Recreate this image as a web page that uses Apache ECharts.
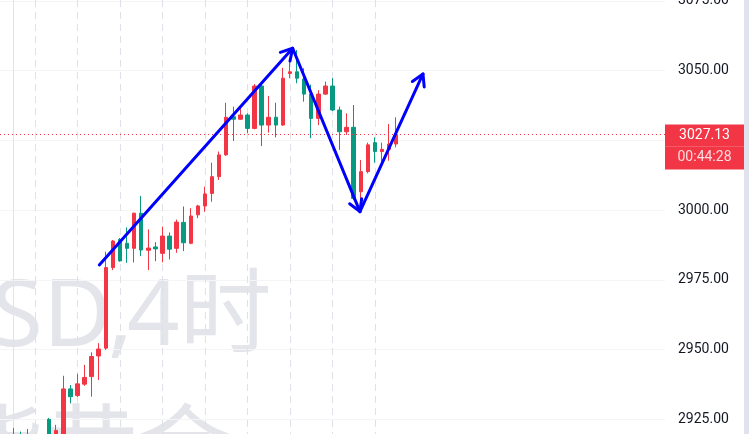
<!DOCTYPE html>
<html>
<head>
<meta charset="utf-8">
<script src="https://cdn.jsdelivr.net/npm/echarts@6/dist/echarts.min.js"></script>
<style>
html,body{margin:0;padding:0;background:#ffffff;}
#c{width:749px;height:434px;}
</style>
</head>
<body>
<div id="c"></div>
<script>
// ---- data (4h candles, index = position) ----
const opens  = [2912,2918,2916,2913,2910,2925,2915,2915,2935.9,2933.5,2937.6,2940.3,2947.7,2950.5,2979.4,2989.5,2988.1,2986.3,2998.9,2985.6,2986.8,2984.5,2990.7,2986.3,2995.6,2988.1,2998.3,3001.5,3006,3012,3019.8,3033.5,3032.6,3034.1,3029.3,3044.5,3030.5,3033.3,3030.5,3049,3049.6,3047,3041.6,3032.9,3041.6,3044.5,3035.9,3028.1,3029.7,3006.6,3013.8,3024.2,3021,3021.8,3023.7];
const closes = [2918,2914,2913,2910,2914,2915,2921,2935.9,2933.1,2937.7,2940,2947.5,2950.2,2979.4,2988.9,2981.8,2986.3,2998.9,2985.7,2986.4,2986.1,2990.7,2986,2995.7,2988.3,2997.9,3001.5,3005.8,3012,3019.8,3033.3,3032.6,3034.1,3029.3,3044.5,3030.5,3033.3,3030.5,3047.3,3049.6,3047.3,3041.6,3032.9,3041.6,3044.5,3035.9,3028.1,3029.7,3004.2,3013.8,3023.4,3021,3021.8,3023.7,3027.13];
const lows   = [2908,2910,2909,2906,2907,2912,2912,2913,2930.7,2933,2937,2933.1,2939.1,2949.9,2978.5,2981.5,2981.1,2981.2,2983.5,2978.5,2981.7,2981.3,2982.3,2984.7,2985.3,2987.8,2997.1,2999.4,3003,3010.8,3019.5,3024.8,3032.4,3027.6,3029,3023,3027.8,3026.1,3030.2,3047.3,3045.5,3038.9,3025.8,3030.5,3041.3,3035.5,3021.6,3027,3003.6,3003,3013.2,3017,3017.4,3017.7,3022.5];
const highs  = [2921.9,2920.6,2921.5,2917,2918,2925.5,2923,2940.6,2937.3,2941.3,2944.5,2949,2952.3,2985.1,2989.3,2990,2993.8,2999.1,3005.1,2993.1,2988.5,2994.1,2992,2996.6,3001.3,3000.7,3001.9,3008.4,3017,3021,3038.5,3037.1,3037.3,3034.7,3045.2,3045,3040.9,3038.5,3051,3054.4,3057.4,3050.9,3045,3043,3046.1,3047.3,3037.1,3034.7,3037.7,3018,3024.2,3026.1,3024.2,3030.9,3033.3];
const dayLines = [3,9,15,21,27,33,39,45,51];
const lastPrice = 3027.13;
const countdown = '00:44:28';
const arrowFrom = [[12.08,2980.33],[39.38,3058.03],[48.88,2999.44]];
const arrowTo   = [[39.38,3058.03],[48.88,2999.44],[57.78,3048.82]];
const watermarkSymbol = 'XAUUSD,';
const watermarkPeriod = '4时';
const watermarkLine2 = '现货黄金';

const candleData = opens.map((o,i)=>[i,o,closes[i],lows[i],highs[i]]);
const arrowData = arrowFrom.map((a,i)=>[a[0],a[1],arrowTo[i][0],arrowTo[i][1]]);

const UP='#f23645', DOWN='#089981', BLUE='#0000ff';
const WM='#e4e5ea';
const chart = echarts.init(document.getElementById('c'), null, {renderer:'canvas'});

function baseGraphics(){
  return [
    {type:'text',z:0,silent:true,x:133,y:319,style:{text:watermarkSymbol,align:'right',verticalAlign:'middle',
      font:'94px "Noto Sans", sans-serif',fill:WM}},
    {type:'text',z:0,silent:true,x:127,y:319,style:{text:watermarkPeriod,align:'left',verticalAlign:'middle',
      font:'92px "Noto Sans", "Noto Sans CJK SC", sans-serif',fill:WM}},
    {type:'text',z:0,silent:true,x:232,y:447,style:{text:watermarkLine2,align:'right',verticalAlign:'middle',
      font:'94px "Noto Sans CJK SC", sans-serif',fill:WM}},
    {type:'rect',z:10,silent:true,shape:{x:744,y:0,width:5,height:434},style:{fill:'#e0e3eb'}}
  ];
}

chart.setOption({
  animation:false,
  backgroundColor:'#ffffff',
  grid:{left:0,right:84,top:-68.75,bottom:-55,containLabel:false,outerBoundsMode:'none'},
  xAxis:{type:'value',min:-1.94,max:91.95,show:false},
  yAxis:{type:'value',position:'right',min:2900,max:3100,interval:25,
    axisLine:{show:true,lineStyle:{color:'#e0e3eb',width:1}},
    axisTick:{show:false},
    axisLabel:{color:'#131722',fontSize:14,fontFamily:'Roboto, "Liberation Sans", sans-serif',margin:13,
      formatter:v=>v.toFixed(2)},
    splitLine:{show:true,lineStyle:{color:'#f5f5f7',width:1}}
  },
  graphic:baseGraphics(),
  series:[
    {type:'custom',name:'grid',z:1,silent:true,data:dayLines.map(d=>[d,3000]),encode:{x:0,y:1},
      renderItem:(params,api)=>{
        const x=Math.round(api.coord([api.value(0),3000])[0])+0.5;
        return {type:'line',shape:{x1:x,y1:0,x2:x,y2:434},style:{stroke:'#dfe1e8',lineWidth:1,lineDash:[7,5]}};
      }},
    {type:'candlestick',name:'XAUUSD',z:3,barWidth:4,
      data:candleData,encode:{x:0,y:[1,2,3,4]},
      itemStyle:{color:UP,color0:DOWN,borderColor:UP,borderColor0:DOWN,borderWidth:1},
      markLine:{silent:true,symbol:['none','none'],label:{show:false},
        lineStyle:{color:UP,type:[1,3],width:1},
        data:[{yAxis:lastPrice}]}
    },
    {type:'custom',name:'arrows',z:5,silent:true,data:arrowData,encode:{x:[0,2],y:[1,3]},
      renderItem:(params,api)=>{
        const p1=api.coord([api.value(0),api.value(1)]);
        const p2=api.coord([api.value(2),api.value(3)]);
        const ang=Math.atan2(p2[1]-p1[1],p2[0]-p1[0]);
        const L=13,a=Math.PI/6;
        const h1=[p2[0]-L*Math.cos(ang-a),p2[1]-L*Math.sin(ang-a)];
        const h2=[p2[0]-L*Math.cos(ang+a),p2[1]-L*Math.sin(ang+a)];
        return {type:'group',children:[
          {type:'line',shape:{x1:p1[0],y1:p1[1],x2:p2[0],y2:p2[1]},style:{stroke:BLUE,lineWidth:3,lineCap:'round'}},
          {type:'polyline',shape:{points:[h1,p2,h2]},style:{stroke:BLUE,lineWidth:3,fill:null,lineJoin:'round',lineCap:'round'}}
        ]};
      }}
  ]
});

const py = chart.convertToPixel({gridIndex:0},[0,lastPrice])[1];
chart.setOption({
  graphic:baseGraphics().concat([
    {type:'rect',z:20,silent:true,shape:{x:665,y:py-10,width:79,height:45},style:{fill:UP}},
    {type:'line',z:21,silent:true,shape:{x1:665,y1:Math.round(py+12)+0.5,x2:744,y2:Math.round(py+12)+0.5},style:{stroke:'rgba(255,255,255,0.18)',lineWidth:1}},
    {type:'text',z:22,silent:true,x:704.5,y:py+1.5,style:{text:lastPrice.toFixed(2),align:'center',verticalAlign:'middle',
      font:'14px Roboto, "Liberation Sans", sans-serif',fill:'#ffffff'}},
    {type:'text',z:22,silent:true,x:704.5,y:py+23.5,style:{text:countdown,align:'center',verticalAlign:'middle',
      font:'14px Roboto, "Liberation Sans", sans-serif',fill:'rgba(255,255,255,0.82)'}}
  ])
});
</script>
</body>
</html>
